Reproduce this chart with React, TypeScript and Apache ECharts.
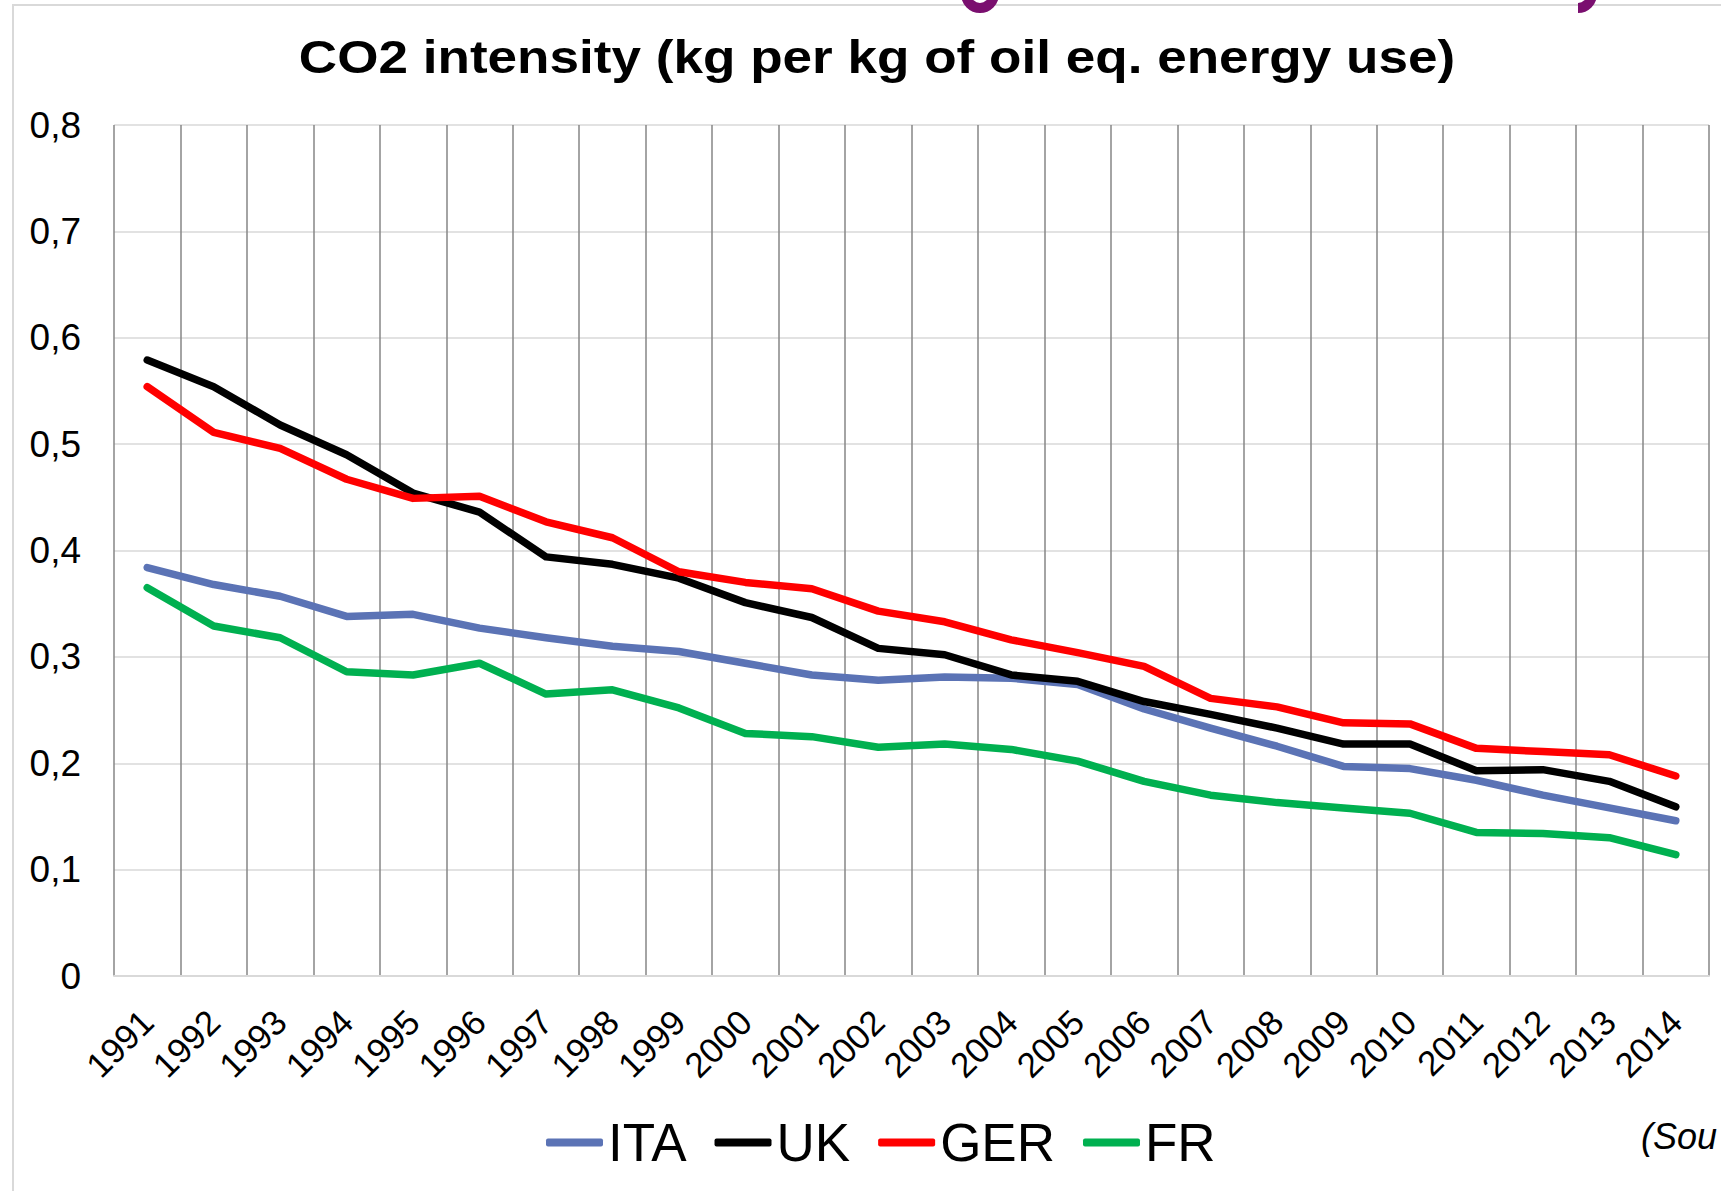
import React, { useEffect, useRef } from "react";
import * as echarts from "echarts";

const years = ["1991","1992","1993","1994","1995","1996","1997","1998","1999","2000","2001","2002","2003","2004","2005","2006","2007","2008","2009","2010","2011","2012","2013","2014"];
const ita = [0.384,0.368,0.357,0.338,0.340,0.327,0.318,0.310,0.305,0.294,0.283,0.278,0.281,0.280,0.274,0.251,0.233,0.216,0.197,0.195,0.184,0.170,0.158,0.146];
const uk = [0.579,0.554,0.518,0.490,0.454,0.436,0.394,0.387,0.374,0.351,0.337,0.308,0.302,0.283,0.277,0.258,0.246,0.233,0.218,0.218,0.193,0.194,0.183,0.159];
const ger = [0.554,0.511,0.496,0.467,0.449,0.451,0.427,0.412,0.380,0.370,0.364,0.343,0.333,0.316,0.304,0.291,0.261,0.253,0.238,0.237,0.214,0.211,0.208,0.188];
const fr = [0.365,0.329,0.318,0.286,0.283,0.294,0.265,0.269,0.252,0.228,0.225,0.215,0.218,0.213,0.202,0.183,0.170,0.163,0.158,0.153,0.135,0.134,0.130,0.114];

const seriesNames = ["ITA", "UK", "GER", "FR"];
const seriesColors = ["#5b73b5", "#000000", "#ff0000", "#00b050"];
const seriesData = [ita, uk, ger, fr];

const FONT = "'Liberation Sans', Arial, sans-serif";
const PURPLE = "#7a0f6f";

export default function App() {
  const ref = useRef<HTMLDivElement>(null);
  useEffect(() => {
    if (!ref.current) return;
    const chart = echarts.init(ref.current, undefined, { renderer: "svg" });
    chart.setOption({
      animation: false,
      backgroundColor: "#ffffff",
      textStyle: { fontFamily: FONT },
      grid: { left: 114, right: 12, top: 125, bottom: 215, containLabel: false },
      legend: {
        data: seriesNames,
        left: 541,
        top: 1111,
        icon: "roundRect",
        itemWidth: 57,
        itemHeight: 8,
        itemGap: 28,
        textStyle: { fontSize: 53, color: "#000", fontFamily: FONT },
      },
      xAxis: {
        type: "category",
        data: years,
        boundaryGap: true,
        axisLine: { show: true, lineStyle: { color: "#d9d9d9", width: 2 } },
        axisTick: { show: false },
        axisLabel: {
          interval: 0,
          rotate: 45,
          margin: 40,
          fontSize: 35,
          color: "#000",
          fontFamily: FONT,
        },
        splitLine: { show: true, interval: 0, lineStyle: { color: "#868686", width: 1.5 } },
      },
      yAxis: {
        type: "value",
        min: 0,
        max: 0.8,
        interval: 0.1,
        axisLine: { show: false },
        axisTick: { show: false },
        axisLabel: {
          margin: 33,
          fontSize: 37,
          color: "#000",
          fontFamily: FONT,
          formatter: (v: number) => (v === 0 ? "0" : v.toFixed(1).replace(".", ",")),
        },
        splitLine: { show: true, lineStyle: { color: "#d9d9d9", width: 1.5 } },
      },
      series: seriesNames.map((name, i) => ({
        name,
        type: "line",
        data: seriesData[i],
        showSymbol: false,
        symbol: "none",
        color: seriesColors[i],
        lineStyle: { color: seriesColors[i], width: 7.5, cap: "round", join: "round" },
        z: 3,
      })),
      graphic: [
        {
          type: "rect",
          shape: { x: 13, y: 5, width: 1800, height: 1400 },
          style: { fill: "none", stroke: "#d9d9d9", lineWidth: 2 },
          z: -1,
        },
        {
          type: "arc",
          shape: { cx: 980, cy: -6, r: 14, startAngle: 0, endAngle: Math.PI },
          style: { stroke: PURPLE, lineWidth: 10, fill: "none" },
          z: 10,
        },
        {
          type: "arc",
          shape: { cx: 1578, cy: -6, r: 14, startAngle: 0, endAngle: Math.PI / 2 },
          style: { stroke: PURPLE, lineWidth: 10, fill: "none" },
          z: 10,
        },
        {
          type: "text",
          x: 877,
          y: 57,
          scaleX: 1.13,
          style: {
            text: "CO2 intensity (kg per kg of oil eq. energy use)",
            fontSize: 47,
            fontWeight: "bold",
            fontFamily: FONT,
            fill: "#000",
            textAlign: "center",
            textVerticalAlign: "middle",
          },
        },
        {
          type: "text",
          x: 1641,
          y: 1136,
          style: {
            text: "(Sou",
            fontSize: 36,
            fontStyle: "italic",
            fontFamily: FONT,
            fill: "#000",
            textAlign: "left",
            textVerticalAlign: "middle",
          },
        },
      ],
    });
    return () => chart.dispose();
  }, []);
  return (
    <div
      ref={ref}
      style={{ position: "fixed", left: 0, top: 0, width: 1721, height: 1191, overflow: "hidden" }}
    />
  );
}
